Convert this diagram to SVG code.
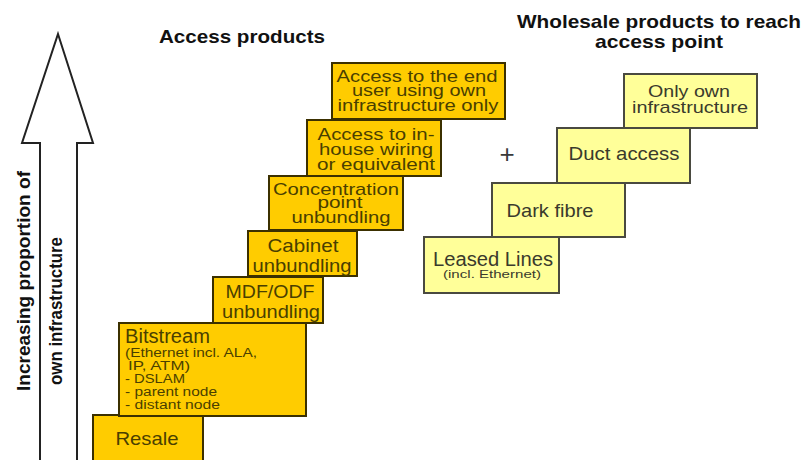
<svg xmlns="http://www.w3.org/2000/svg" width="804" height="460" viewBox="0 0 804 460">
<style>
text{font-family:"Liberation Sans",Arial,sans-serif}
.ob{fill:#FFCC00;stroke:#3b3000;stroke-width:2}
.lb{fill:#FFFF99;stroke:#4a4a40;stroke-width:2}
.ot{fill:#4a3f00;font-size:19px;text-anchor:middle}
.ot3{fill:#4a3f00;font-size:16px;text-anchor:middle}
.lt{fill:#3a3a2c;font-size:19px;text-anchor:middle}
.sm{fill:#4a3f00;font-size:12px}
.ttl{fill:#111;font-size:19px;font-weight:bold;text-anchor:middle}
.ax{fill:#111;font-size:19px;font-weight:bold;text-anchor:middle}
</style>
<rect width="804" height="460" fill="#fff"/>
<g id="axis">
<polygon points="58,34 93,143 77,143 77,462 40,462 40,143 22,143" fill="#fff" stroke="#222" stroke-width="2" stroke-linejoin="miter"/>
<text class="ax" transform="translate(30,281) rotate(-90)" textLength="220" lengthAdjust="spacingAndGlyphs">Increasing proportion of</text>
<text class="ax" transform="translate(62,311) rotate(-90)" style="font-size:18px" textLength="148" lengthAdjust="spacingAndGlyphs">own infrastructure</text>
</g>
<g id="titles">
<text class="ttl" x="242" y="43" textLength="166" lengthAdjust="spacingAndGlyphs">Access products</text>
<text class="ttl" x="659" y="28" textLength="284" lengthAdjust="spacingAndGlyphs">Wholesale products to reach</text>
<text class="ttl" x="659" y="48" textLength="128" lengthAdjust="spacingAndGlyphs">access point</text>
</g>
<g id="resale">
<rect class="ob" x="93" y="415" width="110" height="50"/>
<text class="ot" x="147" y="445" textLength="63" lengthAdjust="spacingAndGlyphs">Resale</text>
</g>
<g id="bitstream">
<rect class="ob" x="119" y="323" width="187" height="93"/>
<text class="ot" x="125" y="343" style="text-anchor:start;font-size:20px" textLength="85" lengthAdjust="spacingAndGlyphs">Bitstream</text>
<text class="sm" x="125" y="357" textLength="132" lengthAdjust="spacingAndGlyphs">(Ethernet incl. ALA,</text>
<text class="sm" x="128" y="370" textLength="62" lengthAdjust="spacingAndGlyphs">IP, ATM)</text>
<text class="sm" x="125" y="383" style="font-size:13px" textLength="60" lengthAdjust="spacingAndGlyphs">- DSLAM</text>
<text class="sm" x="125" y="396" textLength="92" lengthAdjust="spacingAndGlyphs">- parent node</text>
<text class="sm" x="125" y="409" textLength="95" lengthAdjust="spacingAndGlyphs">- distant node</text>
</g>
<g id="mdf">
<rect class="ob" x="213" y="277" width="110" height="46"/>
<text class="ot" x="270" y="298" textLength="89" lengthAdjust="spacingAndGlyphs">MDF/ODF</text>
<text class="ot" x="271" y="318" textLength="98" lengthAdjust="spacingAndGlyphs">unbundling</text>
</g>
<g id="cabinet">
<rect class="ob" x="248" y="231" width="109" height="45"/>
<text class="ot" x="303" y="252" textLength="71" lengthAdjust="spacingAndGlyphs">Cabinet</text>
<text class="ot" x="302" y="272" textLength="99" lengthAdjust="spacingAndGlyphs">unbundling</text>
</g>
<g id="concentration">
<rect class="ob" x="269" y="176" width="134" height="54"/>
<text class="ot3" x="336" y="195" style="font-size:17px" textLength="126" lengthAdjust="spacingAndGlyphs">Concentration</text>
<text class="ot3" x="340" y="208" textLength="45" lengthAdjust="spacingAndGlyphs">point</text>
<text class="ot3" x="341" y="223" style="font-size:17px" textLength="99" lengthAdjust="spacingAndGlyphs">unbundling</text>
</g>
<g id="inhouse">
<rect class="ob" x="307" y="120" width="134" height="56"/>
<text class="ot3" x="376" y="140" textLength="117" lengthAdjust="spacingAndGlyphs">Access to in-</text>
<text class="ot3" x="376" y="155" textLength="114" lengthAdjust="spacingAndGlyphs">house wiring</text>
<text class="ot3" x="376" y="170" textLength="118" lengthAdjust="spacingAndGlyphs">or equivalent</text>
</g>
<g id="enduser">
<rect class="ob" x="332" y="63" width="173" height="56"/>
<text class="ot3" x="417" y="82" textLength="161" lengthAdjust="spacingAndGlyphs">Access to the end</text>
<text class="ot3" x="419" y="96" textLength="134" lengthAdjust="spacingAndGlyphs">user using own</text>
<text class="ot3" x="418" y="111" textLength="161" lengthAdjust="spacingAndGlyphs">infrastructure only</text>
</g>
<g id="plus">
<text x="507" y="163" style="font-size:26px;fill:#3a3a3a;text-anchor:middle">+</text>
</g>
<g id="leased">
<rect class="lb" x="424" y="237" width="135" height="56"/>
<text class="lt" x="493" y="266" style="font-size:20px" textLength="120" lengthAdjust="spacingAndGlyphs">Leased Lines</text>
<text class="lt" x="492" y="278" style="font-size:10px" textLength="98" lengthAdjust="spacingAndGlyphs">(incl. Ethernet)</text>
</g>
<g id="darkfibre">
<rect class="lb" x="492" y="183" width="133" height="54"/>
<text class="lt" x="550" y="217" textLength="87" lengthAdjust="spacingAndGlyphs">Dark fibre</text>
</g>
<g id="duct">
<rect class="lb" x="557" y="128" width="133" height="55"/>
<text class="lt" x="624" y="160" textLength="111" lengthAdjust="spacingAndGlyphs">Duct access</text>
</g>
<g id="ownonly">
<rect class="lb" x="624" y="74" width="133" height="54"/>
<text class="lt" x="689" y="97" style="font-size:17px" textLength="82" lengthAdjust="spacingAndGlyphs">Only own</text>
<text class="lt" x="690" y="113" style="font-size:17px" textLength="116" lengthAdjust="spacingAndGlyphs">infrastructure</text>
</g>
<g id="connectors"/>
</svg>
